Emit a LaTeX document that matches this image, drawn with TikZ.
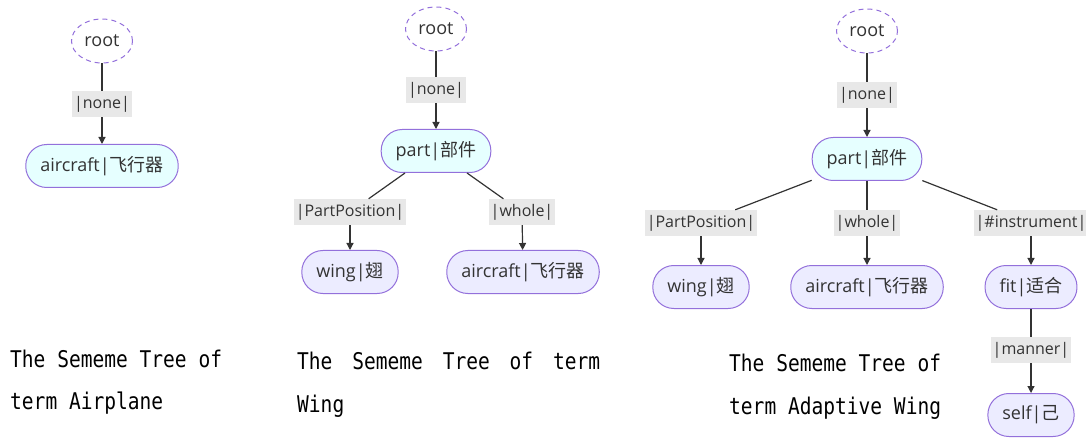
\documentclass[tikz,border=0pt]{standalone}
\usepackage{fontspec}
\usepackage{tikz}
\usetikzlibrary{shapes.geometric, arrows.meta}
\setmainfont{Open Sans}
\newfontfamily\cjk{Noto Sans CJK SC}
\newfontfamily\capfont[FakeStretch=0.85]{DejaVu Sans Mono}
\definecolor{lineclr}{HTML}{333333}
\definecolor{nodeborder}{HTML}{9370DB}
\definecolor{cyanfill}{HTML}{E6FFFF}
\definecolor{lavfill}{HTML}{ECECFF}
\definecolor{lblfill}{HTML}{E8E8E8}
\tikzstyle{sememe} = [draw=nodeborder, line width=1pt, rounded corners=21pt, minimum height=43pt, inner xsep=14.5pt, text=lineclr, font=\fontsize{18}{21}\selectfont]
\tikzstyle{topsem} = [sememe, fill=cyanfill]
\tikzstyle{leafsem} = [sememe, fill=lavfill]
\tikzstyle{rootnode} = [ellipse, draw=nodeborder, dash pattern=on 5pt off 4pt, line width=1pt, minimum width=61pt, minimum height=44pt, text=lineclr, font=\fontsize{18}{21}\selectfont]
\tikzstyle{rel} = [fill=lblfill, inner xsep=2pt, minimum height=26pt, text=lineclr, font=\fontsize{16}{19}\selectfont]
\tikzstyle{link} = [draw=lineclr, line width=1.2pt]
\tikzstyle{arrow} = [link, -{Triangle[length=7pt,width=7pt]}]
\tikzstyle{caption} = [anchor=base west, inner sep=0pt, font=\capfont\fontsize{23}{42}\selectfont]

\begin{document}
\begin{tikzpicture}[x=1pt, y=-1pt]
			\useasboundingbox (0,0) rectangle (1086,438);
			%airplane
			\node[rootnode] (root1) at (102,41) {root};
			\node[rel] (none1) at (102,104) {|none|};
			\node[topsem] (air1) at (102,166) {aircraft|{\cjk 飞行器}};
			\draw[link] (root1) -- (none1);
			\draw[arrow] (none1) -- (air1);
			
			%wing
			\node[rootnode] (root2) at (436,29) {root};
			\node[rel] (none2) at (436,90) {|none|};
			\node[topsem] (part2) at (436,151) {part|{\cjk 部件}};
			\node[rel] (pos2) at (350,212) {|PartPosition|};
			\node[rel] (whole2) at (522,212) {|whole|};
			\node[leafsem] (wing2) at (350,272) {wing|{\cjk 翅}};
			\node[leafsem] (air2) at (523,272) {aircraft|{\cjk 飞行器}};
			\draw[link] (root2) -- (none2);
			\draw[arrow] (none2) -- (part2);
			\draw[link] (part2) -- (pos2);
			\draw[arrow] (pos2) -- (wing2);
			\draw[link] (part2) -- (whole2);
			\draw[arrow] (whole2) -- (air2);
			
			%adaptive wing
			\node[rootnode] (root3) at (867,31) {root};
			\node[rel] (none3) at (867,95) {|none|};
			\node[topsem] (part3) at (867,159) {part|{\cjk 部件}};
			\node[rel] (pos3) at (701,223) {|PartPosition|};
			\node[rel] (whole3) at (867,223) {|whole|};
			\node[rel] (instr3) at (1031,223) {|\#instrument|};
			\node[leafsem] (wing3) at (701,287) {wing|{\cjk 翅}};
			\node[leafsem] (air3) at (867,287) {aircraft|{\cjk 飞行器}};
			\node[leafsem] (fit3) at (1031,287) {fit|{\cjk 适合}};
			\node[rel] (manner3) at (1031,350) {|manner|};
			\node[leafsem] (self3) at (1031,415) {self|{\cjk 己}};
			\draw[link] (root3) -- (none3);
			\draw[arrow] (none3) -- (part3);
			\draw[link] (part3) -- (pos3);
			\draw[arrow] (pos3) -- (wing3);
			\draw[link] (part3) -- (whole3);
			\draw[arrow] (whole3) -- (air3);
			\draw[link] (part3) -- (instr3);
			\draw[arrow] (instr3) -- (fit3);
			\draw[link] (fit3) -- (manner3);
			\draw[arrow] (manner3) -- (self3);
			
			%captions
			\node[caption] (cap1a) at (10,367) {The Sememe Tree of};
			\node[caption] (cap1b) at (10,409) {term Airplane};
			\node[caption] (cap2a) at (297,369) {\makebox[303pt][s]{The \hfill Sememe \hfill Tree \hfill of \hfill term}};
			\node[caption] (cap2b) at (297,412) {Wing};
			\node[caption] (cap3a) at (729,371) {The Sememe Tree of};
			\node[caption] (cap3b) at (729,414) {term Adaptive Wing};
			
		\end{tikzpicture}
\end{document}
